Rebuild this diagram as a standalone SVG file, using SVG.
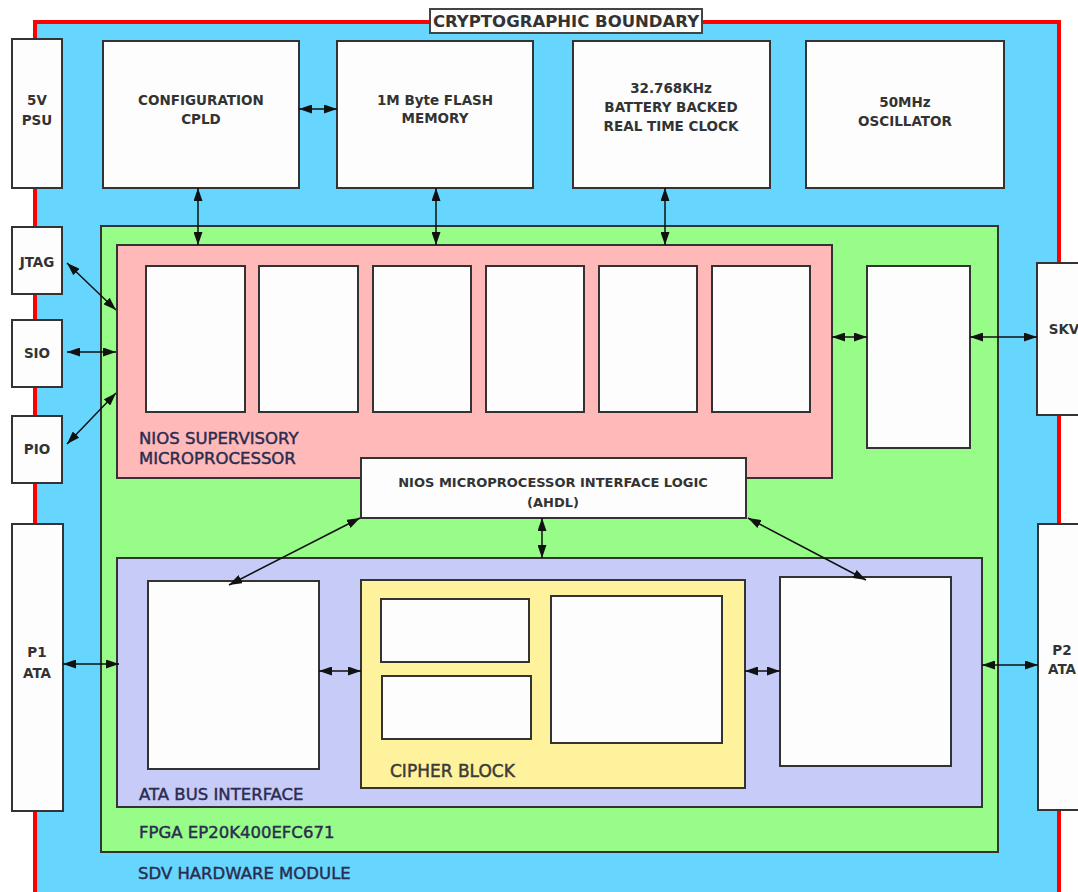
<svg xmlns="http://www.w3.org/2000/svg" width="1078" height="892" viewBox="0 0 1078 892">
<defs>
<marker id="ah" markerUnits="userSpaceOnUse" markerWidth="13" markerHeight="9" refX="13" refY="4.5" orient="auto-start-reverse">
<path d="M0,0 L13,4.5 L0,9 z" fill="#111"/>
</marker>
<style>
.box{fill:#fdfdfd;stroke:#333;stroke-width:2}
.reg{stroke:#333;stroke-width:2}
.t{font-family:"DejaVu Sans",Verdana,sans-serif;font-weight:bold;font-size:13.5px;fill:#333;text-anchor:middle}
.lab{font-family:"DejaVu Sans",Verdana,sans-serif;font-size:16.5px;fill:#2b2c50;stroke:#2b2c50;stroke-width:0.45}
.con line{stroke:#111;stroke-width:1.5;marker-start:url(#ah);marker-end:url(#ah)}
</style>
</defs>
<rect width="1078" height="892" fill="#fff"/>
<g id="sdv-module">
<rect x="35" y="22" width="1024" height="900" fill="#66d6ff" stroke="#ff0000" stroke-width="4"/>
<text class="lab" x="138" y="879">SDV HARDWARE MODULE</text>
</g>
<g id="crypto-boundary">
<rect x="430" y="9" width="272" height="24" fill="#fdfdfd" stroke="#444" stroke-width="2"/>
<text class="t" x="566" y="27" style="font-size:16.5px">CRYPTOGRAPHIC BOUNDARY</text>
</g>
<g id="psu">
<rect class="box" x="12" y="39" width="50" height="149"/>
<text class="t" x="37" y="105">5V</text>
<text class="t" x="37" y="125">PSU</text>
</g>
<g id="cpld">
<rect class="box" x="103" y="41" width="196" height="147"/>
<text class="t" x="201" y="105">CONFIGURATION</text>
<text class="t" x="201" y="124">CPLD</text>
</g>
<g id="flash">
<rect class="box" x="337" y="41" width="196" height="147"/>
<text class="t" x="435" y="105">1M Byte FLASH</text>
<text class="t" x="435" y="123">MEMORY</text>
</g>
<g id="rtc">
<rect class="box" x="573" y="41" width="197" height="147"/>
<text class="t" x="671" y="93">32.768KHz</text>
<text class="t" x="671" y="112">BATTERY BACKED</text>
<text class="t" x="671" y="131">REAL TIME CLOCK</text>
</g>
<g id="osc">
<rect class="box" x="806" y="41" width="198" height="147"/>
<text class="t" x="905" y="107">50MHz</text>
<text class="t" x="905" y="126">OSCILLATOR</text>
</g>
<g id="fpga">
<rect class="reg" x="101" y="226" width="897" height="626" fill="#97fc88"/>
<text class="lab" x="139" y="838">FPGA EP20K400EFC671</text>
</g>
<g id="nios">
<rect class="reg" x="117" y="245" width="715" height="233" fill="#ffb9b9"/>
<rect class="box" x="146" y="266" width="99" height="146"/>
<rect class="box" x="259" y="266" width="99" height="146"/>
<rect class="box" x="373" y="266" width="98" height="146"/>
<rect class="box" x="486" y="266" width="98" height="146"/>
<rect class="box" x="599" y="266" width="98" height="146"/>
<rect class="box" x="712" y="266" width="98" height="146"/>
<text class="lab" x="139" y="444">NIOS SUPERVISORY</text>
<text class="lab" x="139" y="464">MICROPROCESSOR</text>
</g>
<g id="nios-right-block">
<rect class="box" x="867" y="266" width="103" height="182"/>
</g>
<g id="interface-logic">
<rect class="box" x="361" y="458" width="385" height="60"/>
<text class="t" x="553" y="487" style="font-size:13px">NIOS MICROPROCESSOR INTERFACE LOGIC</text>
<text class="t" x="553" y="507" style="font-size:13px">(AHDL)</text>
</g>
<g id="ata-bus">
<rect class="reg" x="117" y="558" width="865" height="249" fill="#c6cbf8"/>
<rect class="box" x="148" y="581" width="171" height="188"/>
<rect class="box" x="780" y="577" width="171" height="189"/>
<text class="lab" x="139" y="800">ATA BUS INTERFACE</text>
</g>
<g id="cipher">
<rect class="reg" x="361" y="580" width="384" height="208" fill="#fff29c"/>
<rect class="box" x="381" y="599" width="148" height="63"/>
<rect class="box" x="382" y="676" width="149" height="63"/>
<rect class="box" x="551" y="596" width="171" height="147"/>
<text class="lab" x="390" y="777" style="fill:#3a3a3a;stroke:#3a3a3a;font-size:17px">CIPHER BLOCK</text>
</g>
<g id="jtag">
<rect class="box" x="12" y="227" width="50" height="67"/>
<text class="t" x="37" y="267">JTAG</text>
</g>
<g id="sio">
<rect class="box" x="12" y="320" width="50" height="67"/>
<text class="t" x="37" y="358">SIO</text>
</g>
<g id="pio">
<rect class="box" x="12" y="416" width="50" height="67"/>
<text class="t" x="37" y="454">PIO</text>
</g>
<g id="skv">
<rect class="box" x="1037" y="263" width="54" height="152"/>
<text class="t" x="1064" y="334">SKV</text>
</g>
<g id="p1">
<rect class="box" x="12" y="524" width="51" height="287"/>
<text class="t" x="37" y="657">P1</text>
<text class="t" x="37" y="678">ATA</text>
</g>
<g id="p2">
<rect class="box" x="1038" y="524" width="54" height="286"/>
<text class="t" x="1062" y="655">P2</text>
<text class="t" x="1062" y="674">ATA</text>
</g>
<g id="connectors" class="con">
<line x1="299" y1="109" x2="337" y2="109"/>
<line x1="198" y1="188" x2="198" y2="245"/>
<line x1="436" y1="188" x2="436" y2="245"/>
<line x1="665" y1="188" x2="665" y2="245"/>
<line x1="67" y1="263" x2="116" y2="310"/>
<line x1="67" y1="352" x2="116" y2="352"/>
<line x1="67" y1="444" x2="116" y2="393"/>
<line x1="832" y1="337" x2="867" y2="337"/>
<line x1="970" y1="337" x2="1037" y2="337"/>
<line x1="542" y1="518" x2="542" y2="558"/>
<line x1="360" y1="518" x2="229" y2="585"/>
<line x1="748" y1="518" x2="866" y2="580"/>
<line x1="63" y1="664" x2="119" y2="664"/>
<line x1="319" y1="671" x2="361" y2="671"/>
<line x1="745" y1="671" x2="780" y2="671"/>
<line x1="982" y1="665" x2="1038" y2="665"/>
</g>
</svg>
